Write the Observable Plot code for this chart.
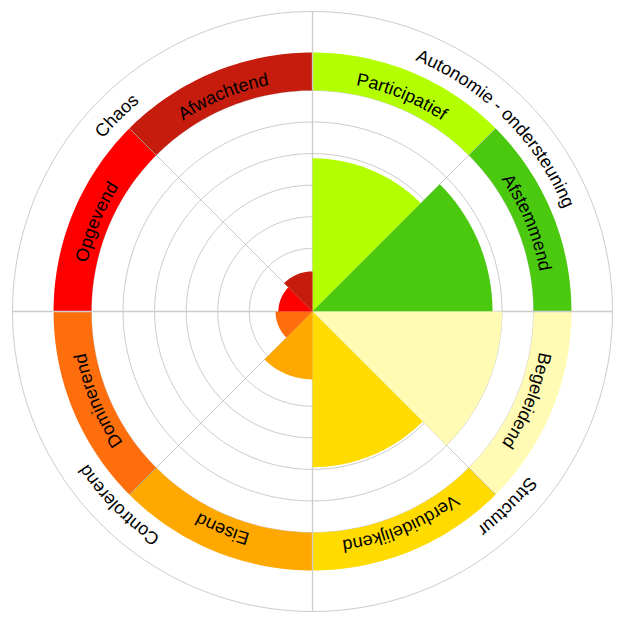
<!DOCTYPE html>
<html>
<head>
<meta charset="utf-8">
<script src="https://cdn.jsdelivr.net/npm/d3@7"></script>
<script src="https://cdn.jsdelivr.net/npm/@observablehq/plot@0.6"></script>
<style>
  html, body { margin: 0; padding: 0; background: #fff; }
  svg { display: block; }
</style>
</head>
<body>
<div id="chart"></div>
<script>
// ---- data ----
const categories = ["Participatief", "Afstemmend", "Begeleidend", "Verduidelijkend", "Eisend", "Dominerend", "Opgevend", "Afwachtend"];
const values = [4.85, 5.7, 6.0, 4.93, 2.15, 1.17, 1.08, 1.27];
const palette = ["#b3ff00", "#4bc90f", "#fffbb4", "#ffdb00", "#ffa800", "#ff6e0c", "#ff0000", "#c61c0e"];
const dimensions = ["Autonomie - ondersteuning", "Structuur", "Controlerend", "Chaos"];
const gridLevels = [1, 2, 3, 4, 5, 6, 7];

// ---- geometry constants (in value units) ----
const R_MAX = 9.5;      // outer circle
const RING_IN = 7.0;    // coloured ring inner radius
const RING_OUT = 8.2;   // coloured ring outer radius
const RING_TEXT = 7.3;  // baseline of ring labels
const DIM_TEXT = 8.6;   // baseline of dimension labels
const SECTOR = 360 / categories.length;

const rad = d => d * Math.PI / 180;
function arc(r, a0, a1, n = 40) {
  const pts = [];
  for (let k = 0; k <= n; k++) {
    const a = rad(a0 + (a1 - a0) * k / n);
    pts.push({x: r * Math.sin(a), y: r * Math.cos(a)});
  }
  return pts;
}

const wedgeData = categories.flatMap((c, i) =>
  [{cat: c, x: 0, y: 0}, ...arc(values[i], i * SECTOR, (i + 1) * SECTOR).map(p => ({cat: c, ...p}))]
);
const ringData = categories.flatMap((c, i) => [
  ...arc(RING_OUT, i * SECTOR, (i + 1) * SECTOR).map(p => ({cat: c, ...p})),
  ...arc(RING_IN, (i + 1) * SECTOR, i * SECTOR).map(p => ({cat: c, ...p}))
]);
const gridData = [...gridLevels, R_MAX].flatMap(l => arc(l, 0, 360, 180).map(p => ({level: l, ...p})));
const diagData = [45, 135, 225, 315].map(a => ({x: RING_OUT * Math.sin(rad(a)), y: RING_OUT * Math.cos(rad(a))}));

// label arcs (clockwise), one series per label
const labels = [...categories, ...dimensions];
const labelArcData = [
  ...categories.flatMap((c, i) => arc(RING_TEXT, i * SECTOR, (i + 1) * SECTOR).map(p => ({label: c, ...p}))),
  ...dimensions.flatMap((d, k) => arc(DIM_TEXT, 90 * k, 90 * k + 90).map(p => ({label: d, ...p})))
];

const svg = Plot.plot({
  width: 622,
  height: 622,
  marginLeft: 12,
  marginRight: 10,
  marginTop: 11,
  marginBottom: 11,
  x: {domain: [-R_MAX, R_MAX], axis: null},
  y: {domain: [-R_MAX, R_MAX], axis: null},
  color: {domain: categories, range: palette},
  marks: [
    Plot.line(gridData, {x: "x", y: "y", z: "level", stroke: "#cccccc", strokeWidth: 1}),
    Plot.line(ringData, {x: "x", y: "y", z: "cat", fill: "cat", stroke: "none"}),
    Plot.ruleX([0], {y1: -R_MAX, y2: R_MAX, stroke: "#cccccc", strokeWidth: 1.3}),
    Plot.ruleY([0], {x1: -R_MAX, x2: R_MAX, stroke: "#cccccc", strokeWidth: 1.3}),
    Plot.link(diagData, {x1: 0, y1: 0, x2: "x", y2: "y", stroke: "#aaaaaa", strokeWidth: 0.6}),
    Plot.line(wedgeData, {x: "x", y: "y", z: "cat", fill: "cat", stroke: "none"}),
    Plot.line(labelArcData, {x: "x", y: "y", z: "label", stroke: "#ffffff", strokeOpacity: 0, strokeWidth: 1, ariaDescription: "labelarcs"})
  ]
});

// attach curved labels to the arcs drawn by Plot
const NS = "http://www.w3.org/2000/svg";
const XL = "http://www.w3.org/1999/xlink";
let group = svg.querySelector('g[aria-description="labelarcs"]');
if (!group) {
  const gs = svg.querySelectorAll('g[aria-label="line"]');
  group = gs[gs.length - 1];
}
const paths = group ? group.querySelectorAll("path") : [];
paths.forEach((path, i) => {
  const id = "labelarc-" + i;
  path.setAttribute("id", id);
  const text = document.createElementNS(NS, "text");
  text.setAttribute("fill", "#000");
  text.setAttribute("stroke", "none");
  text.setAttribute("font-family", "'Liberation Sans', Arial, sans-serif");
  text.setAttribute("font-size", "18");
  const tp = document.createElementNS(NS, "textPath");
  tp.setAttribute("href", "#" + id);
  tp.setAttributeNS(XL, "xlink:href", "#" + id);
  tp.setAttribute("startOffset", "50%");
  tp.setAttribute("text-anchor", "middle");
  tp.textContent = labels[i];
  text.appendChild(tp);
  path.parentNode.appendChild(text);
});

document.getElementById("chart").appendChild(svg);
</script>
</body>
</html>
